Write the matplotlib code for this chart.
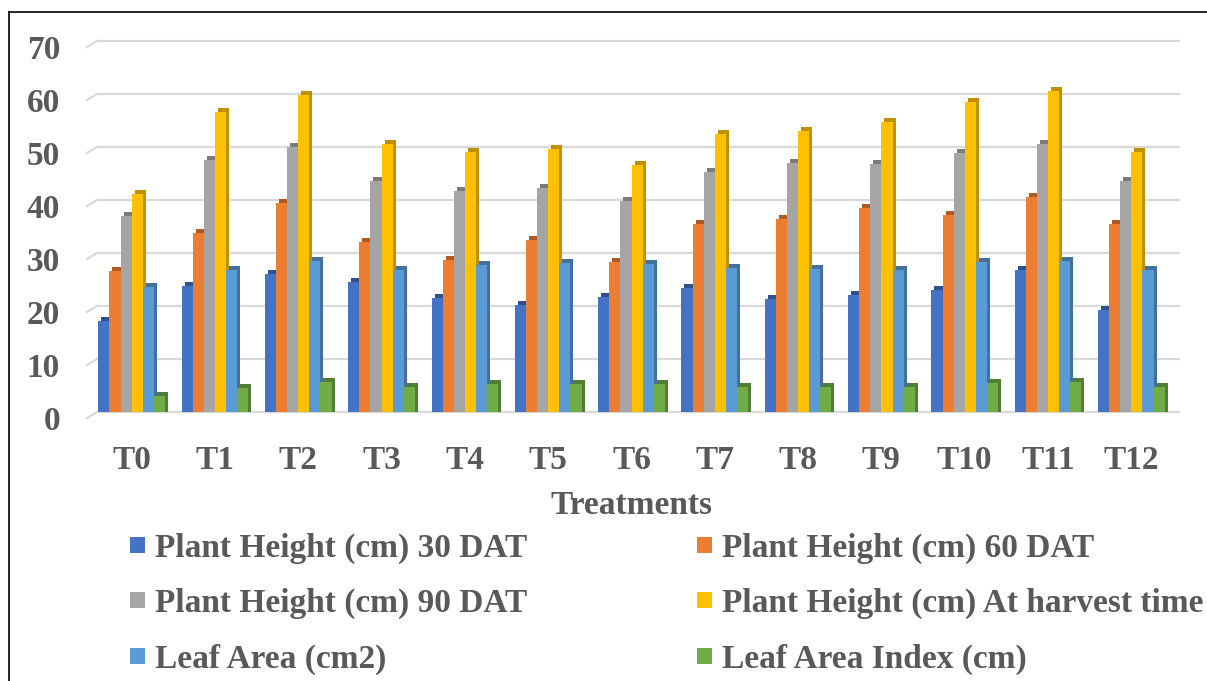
import matplotlib
matplotlib.use("Agg")
import matplotlib.pyplot as plt
import matplotlib.transforms as mtransforms
from matplotlib.patches import Patch
from matplotlib.lines import Line2D
import numpy as np

treatments = ["T0", "T1", "T2", "T3", "T4", "T5", "T6", "T7", "T8", "T9", "T10", "T11", "T12"]

ph_30 = [17.9, 24.6, 26.7, 25.3, 22.2, 20.9, 22.4, 24.1, 22.1, 22.8, 23.8, 27.5, 20.0]
ph_60 = [27.3, 34.5, 40.2, 32.9, 29.5, 33.2, 29.0, 36.2, 37.2, 39.2, 37.9, 41.4, 36.2]
ph_90 = [37.7, 48.3, 50.8, 44.3, 42.5, 43.1, 40.6, 46.1, 47.7, 47.5, 49.6, 51.3, 44.4]
ph_harvest = [41.8, 57.3, 60.6, 51.4, 49.9, 50.3, 47.4, 53.3, 53.8, 55.4, 59.2, 61.3, 49.9]
leaf_area = [24.4, 27.5, 29.2, 27.6, 28.5, 28.8, 28.7, 27.9, 27.7, 27.6, 29.1, 29.3, 27.6]
lai = [3.8, 5.3, 6.4, 5.5, 6.0, 6.0, 6.0, 5.5, 5.5, 5.4, 6.2, 6.4, 5.5]

series = [
    ("Plant Height (cm) 30 DAT", ph_30),
    ("Plant Height (cm) 60 DAT", ph_60),
    ("Plant Height (cm) 90 DAT", ph_90),
    ("Plant Height (cm) At harvest time", ph_harvest),
    ("Leaf Area (cm2)", leaf_area),
    ("Leaf Area Index (cm)", lai),
]
face = ["#4472C4", "#ED7D31", "#A5A5A5", "#FFC000", "#5B9BD5", "#70AD47"]
shade = ["#2F528F", "#AE5A21", "#7B7B7B", "#BF9000", "#41719C", "#507E32"]

TXT = "#595959"
FONT = "Liberation Serif"
FS = 24

W, H = 1207, 681
fig = plt.figure(figsize=(W / 100, H / 100), dpi=100)
ax_l, ax_r, ax_t, ax_b = 90, 1173, 41, 412
ax = fig.add_axes([ax_l / W, 1 - ax_b / H, (ax_r - ax_l) / W, (ax_b - ax_t) / H])

x = np.arange(len(treatments))
n = len(series)
bw = 0.8 / n

# fake 3D: darker body behind, front face dropped a few px
back = ax.transData + mtransforms.ScaledTranslation(3 / 100, 0, fig.dpi_scale_trans)
front = ax.transData + mtransforms.ScaledTranslation(0, -4 / 100, fig.dpi_scale_trans)
for k, (name, vals) in enumerate(series):
    pos = x + (k - (n - 1) / 2) * bw
    ax.bar(pos, vals, width=bw, color=shade[k], linewidth=0, transform=back, zorder=2)
    ax.bar(pos, vals, width=bw, color=face[k], linewidth=0, transform=front, zorder=3,
           label=name)

ax.set_xlim(-0.5, len(treatments) - 0.5)
ax.set_ylim(0, 70)
yticks = np.arange(0, 71, 10)

# gridlines on the back wall with a short slanted floor edge at the left
blend = mtransforms.blended_transform_factory(ax.transAxes, ax.transData)
span = ax_r - ax_l
gx0, gx1, gxa = (97 - ax_l) / span, (1179 - ax_l) / span, (87 - ax_l) / span
drop = 6 * 70 / (ax_b - ax_t)
for v in yticks:
    ax.plot([gx0, gx1], [v, v], color="#D9D9D9", lw=1.6, transform=blend,
            clip_on=False, zorder=1)
    ax.plot([gxa, gx0], [v - drop, v], color="#D9D9D9", lw=1.6, transform=blend,
            clip_on=False, zorder=1)

for s in ax.spines.values():
    s.set_visible(False)
ax.set_yticks(yticks)
ax.set_yticklabels([str(v) for v in yticks])
ax.set_xticks(x)
ax.set_xticklabels(treatments)
ax.tick_params(axis="both", length=0, labelsize=FS, labelcolor=TXT)
ax.tick_params(axis="y", pad=21.6)
ax.tick_params(axis="x", pad=24)
shift = mtransforms.ScaledTranslation(0, -6 / 100, fig.dpi_scale_trans)
for lab in ax.get_yticklabels() + ax.get_xticklabels():
    lab.set_fontfamily(FONT)
    lab.set_fontweight("bold")
for lab in ax.get_yticklabels():
    lab.set_transform(lab.get_transform() + shift)

ax.set_xlabel("Treatments", fontsize=FS, fontweight="bold", color=TXT, family=FONT)
ax.xaxis.set_label_coords(0.5, (ax_b - 490) / (ax_b - ax_t))
ax.xaxis.label.set_va("top")

# legend filled row by row: reorder for matplotlib's column-first layout
order = [0, 2, 4, 1, 3, 5]
handles = [Patch(facecolor=face[i], edgecolor="none") for i in order]
fig.legend(handles, [series[i][0] for i in order], ncol=2, loc="upper left",
           bbox_to_anchor=(130 / W, 1 - 533 / H), frameon=False,
           prop={"family": FONT, "weight": "bold", "size": FS},
           labelcolor=TXT, borderpad=0, borderaxespad=0,
           handlelength=0.45, handleheight=0.36, handletextpad=0.3,
           columnspacing=5.1, labelspacing=0.72)

# outer frame (only top and left edges are visible)
fig.add_artist(Line2D([9 / W, 1.0], [1 - 12 / H, 1 - 12 / H], color="black", lw=1.2,
                      transform=fig.transFigure))
fig.add_artist(Line2D([9 / W, 9 / W], [0.0, 1 - 12 / H], color="black", lw=1.2,
                      transform=fig.transFigure))

fig.savefig("out.png", dpi=100)
